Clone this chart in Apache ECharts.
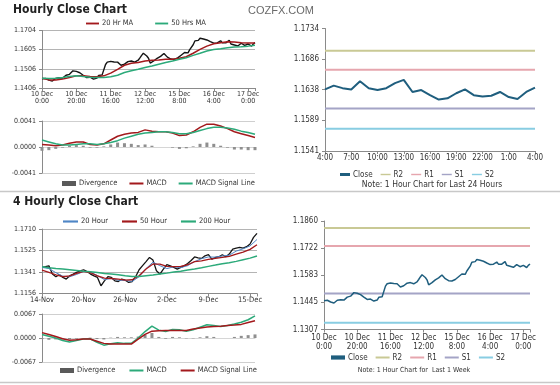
<!DOCTYPE html>
<html><head><meta charset="utf-8">
<script src="https://cdn.jsdelivr.net/npm/echarts@6/dist/echarts.min.js"></script>
<style>html,body{margin:0;padding:0;background:#fff}#c{width:560px;height:385px}</style>
</head><body><div id="c"></div>
<script>
// ---------- Hourly (1h) data, index 0 = 10 Dec 0:00 ----------
const hourlyTicks = ['10 Dec\n0:00','10 Dec\n20:00','11 Dec\n16:00','12 Dec\n12:00','15 Dec\n8:00','16 Dec\n4:00','17 Dec\n0:00'];
const hourlyClose = [
 1.1454,1.1450,1.1456,1.1449,1.1447,1.1444,1.1442,1.1448,1.1456,1.1460,
 1.1459,1.1455,1.1457,1.1465,1.1472,1.1468,1.1477,1.1484,1.1495,1.1500,
 1.1492,1.1486,1.1485,1.1480,1.1472,1.1466,1.1460,1.1457,1.1462,1.1458,
 1.1452,1.1450,1.1457,1.1471,1.1468,1.1474,1.1480,1.1528,1.1540,1.1537,
 1.1544,1.1536,1.1541,1.1548,1.1540,1.1530,1.1524,1.1522,1.1530,1.1536,
 1.1543,1.1549,1.1546,1.1544,1.1540,1.1538,1.1550,1.1562,1.1575,1.1586,
 1.1578,1.1572,1.1560,1.1535,1.1528,1.1546,1.1552,1.1560,1.1566,1.1570,
 1.1580,1.1585,1.1576,1.1566,1.1560,1.1556,1.1560,1.1554,1.1557,1.1562,
 1.1570,1.1576,1.1584,1.1590,1.1582,1.1588,1.1605,1.1615,1.1630,1.1650,
 1.1656,1.1653,1.1664,1.1668,1.1660,1.1662,1.1655,1.1650,1.1646,1.1642,
 1.1638,1.1644,1.1640,1.1638,1.1651,1.1640,1.1637,1.1640,1.1648,1.1653,
 1.1634,1.1637,1.1629,1.1622,1.1624,1.1632,1.1638,1.1629,1.1627,1.1628,
 1.1634,1.1626,1.1623,1.1634,1.1641];
// sampled every 4 hours
const ma20h = [1.1457,1.1448,1.1447,1.1452,1.1460,1.1469,1.1469,1.1465,1.1464,1.1469,1.1483,1.1503,1.1524,1.1534,1.1538,1.1546,1.1550,1.1551,1.1555,1.1555,1.1560,1.1568,1.1586,1.1606,1.1623,1.1635,1.1641,1.1646,1.1644,1.1641,1.1639,1.1639];
const ma50h = [1.1457,1.1455,1.1457,1.1460,1.1465,1.1469,1.1465,1.1462,1.1460,1.1460,1.1464,1.1472,1.1486,1.1495,1.1503,1.1512,1.1520,1.1529,1.1538,1.1546,1.1555,1.1563,1.1575,1.1586,1.1598,1.1606,1.1610,1.1615,1.1618,1.1620,1.1623,1.1627];
const macdH = [.0004,.0003,.0002,.0003,.0006,.0008,.0008,.0004,.0003,.0005,.0011,.0017,.0020,.0022,.0023,.0027,.0025,.0024,.0024,.0022,.0018,.0019,.0024,.0031,.0036,.0036,.0033,.0029,.0024,.0021,.0018,.0015];
const signalH = [.0011,.0008,.0005,.0003,.0003,.0004,.0005,.0005,.0004,.0005,.0007,.0010,.0014,.0017,.0020,.0022,.0023,.0024,.0024,.0023,.0021,.0021,.0023,.0026,.0029,.0031,.0031,.0030,.0028,.0025,.0023,.0020];
const divH = [-.0006,-.0005,-.0003,-.0001,.0002,.0003,.0002,-.0001,-.0001,.0001,.0004,.0007,.0006,.0005,.0003,.0004,.0002,.0000,.0000,-.0001,-.0003,-.0002,.0001,.0005,.0007,.0005,.0002,-.0001,-.0004,-.0004,-.0005,-.0005];
const priceTicksH = ['1.1406','1.1506','1.1605','1.1704'];
const macdTicksH = ['-0.0041','0.0000','0.0041'];

// ---------- last 24 hours / last week ----------
const dayTicks24 = ['4:00','7:00','10:00','13:00','16:00','19:00','22:00','1:00','4:00'];
const priceTicks24 = ['1.1541','1.1589','1.1638','1.1686','1.1734'];
const levelNames = ['R2','R1','S1','S2'];
const levels24 = [1.1699,1.1669,1.1608,1.1576];
const levelsWeek = [1.1824,1.1732,1.1491,1.1341];
const priceTicksWeek = ['1.1307','1.1445','1.1583','1.1722','1.1860'];

// ---------- 4-hourly data ----------
const fourHTicks = ['14-Nov','20-Nov','26-Nov','2-Dec','9-Dec','15-Dec'];
// sampled every 2 bars
const close4h = [
 1.1380,1.1386,1.1394,1.1323,1.1300,1.1318,1.1294,1.1280,1.1308,1.1322,
 1.1337,1.1351,1.1360,1.1345,1.1323,1.1308,1.1294,1.1222,1.1265,1.1300,
 1.1294,1.1265,1.1259,1.1280,1.1270,1.1251,1.1259,1.1300,1.1360,1.1395,
 1.1430,1.1466,1.1443,1.1351,1.1323,1.1366,1.1403,1.1394,1.1380,1.1366,
 1.1380,1.1394,1.1414,1.1440,1.1470,1.1462,1.1457,1.1480,1.1489,1.1450,
 1.1466,1.1472,1.1489,1.1472,1.1495,1.1538,1.1546,1.1552,1.1546,1.1558,
 1.1581,1.1638,1.1672];
// sampled every 4 bars
const ma20_4h = [1.1380,1.1370,1.1335,1.1305,1.1300,1.1320,1.1345,1.1340,1.1310,1.1275,1.1285,1.1270,1.1268,1.1260,1.1300,1.1370,1.1425,1.1395,1.1370,1.1385,1.1378,1.1395,1.1430,1.1455,1.1470,1.1468,1.1478,1.1485,1.1520,1.1540,1.1565,1.1620];
const ma50_4h = [1.1357,1.1337,1.1317,1.1300,1.1308,1.1328,1.1346,1.1334,1.1308,1.1288,1.1285,1.1280,1.1271,1.1274,1.1308,1.1366,1.1409,1.1409,1.1389,1.1386,1.1389,1.1403,1.1429,1.1437,1.1449,1.1457,1.1466,1.1475,1.1495,1.1512,1.1535,1.1575];
const ma200_4h = [1.1386,1.1377,1.1371,1.1366,1.1360,1.1354,1.1348,1.1343,1.1337,1.1328,1.1323,1.1317,1.1308,1.1302,1.1302,1.1308,1.1314,1.1323,1.1331,1.1340,1.1348,1.1357,1.1366,1.1377,1.1389,1.1400,1.1412,1.1420,1.1432,1.1446,1.1460,1.1478];
const macd4h = [.0010,.0005,.0000,-.0007,-.0011,-.0007,-.0003,-.0002,-.0012,-.0020,-.0016,-.0013,-.0015,-.0015,.0000,.0018,.0033,.0022,.0018,.0024,.0023,.0019,.0023,.0030,.0037,.0035,.0032,.0035,.0039,.0044,.0051,.0062];
const signal4h = [.0015,.0010,.0004,-.0002,-.0006,-.0005,-.0003,-.0003,-.0009,-.0015,-.0017,-.0017,-.0017,-.0017,-.0003,.0010,.0019,.0020,.0021,.0021,.0021,.0021,.0025,.0028,.0031,.0032,.0033,.0035,.0036,.0038,.0043,.0048];
const div4h = [-.0003,-.0005,-.0004,-.0004,-.0004,-.0002,.0000,.0001,-.0003,-.0004,.0001,.0003,.0002,.0002,.0004,.0009,.0014,.0003,-.0002,.0003,.0002,-.0001,-.0001,.0002,.0005,.0003,.0000,.0000,.0003,.0006,.0008,.0010];
const priceTicks4h = ['1.1156','1.1341','1.1525','1.1710'];
const macdTicks4h = ['-0.0067','0.0000','0.0067'];

// ---------- helpers ----------
const FONT = "'Liberation Sans Narrow','Arial Narrow','DejaVu Sans Condensed','Liberation Sans',Arial,sans-serif";
const AX = '#8a8a8a';
const RED = '#a3191c', GREEN = '#2caa7a', BLUE = '#4f86c6', CLOSE = '#1f5e7e';
const LEVEL_COLORS = ['#c9c995','#e6a6ae','#a4a4c6','#88cde2'];
const LINE_ICON = 'path://M0,0H14V2H0Z';
const THICK_ICON = 'path://M0,0H10V3H0Z';
const pts = (arr, step) => arr.map((v, i) => [i * step, v]);
function yFmt(labels, min, iv) {
  return v => { const k = Math.round((v - min) / iv); return (labels[k] !== undefined && Math.abs(v - (min + k * iv)) < iv * 0.02) ? labels[k] : ''; };
}
function xFmt(labels, iv) {
  return v => { const k = Math.round(v / iv); return Math.abs(v - k * iv) < 0.01 ? (labels[k] || '') : ''; };
}
function mkY(gi, min, max, labels, o) {
  o = o || {};
  const iv = (max - min) / (labels.length - 1);
  return {
    type: 'value', gridIndex: gi, min: min, max: max, interval: iv,
    axisLine: { show: true, lineStyle: { color: AX } },
    axisTick: { show: true, length: 3, lineStyle: { color: AX } },
    splitLine: { show: o.split !== false, lineStyle: { color: o.splitColor || '#bcbcbc', width: 1 } },
    axisLabel: { formatter: yFmt(labels, min, iv), fontSize: o.fs || 7, color: '#333', fontFamily: FONT, margin: o.margin || 6 }
  };
}
function mkX(gi, max, iv, labels, o) {
  o = o || {};
  return {
    type: 'value', gridIndex: gi, min: 0, max: max, interval: iv,
    axisLine: { show: true, onZero: !!o.onZero, lineStyle: { color: o.lineColor || AX } },
    axisTick: { show: !!labels, length: 3, lineStyle: { color: AX } },
    splitLine: { show: false },
    axisLabel: { show: !!labels, formatter: labels ? xFmt(labels, iv) : '', fontSize: o.fs || 7, lineHeight: o.lh || 7, color: '#333', fontFamily: FONT, margin: o.margin || 4 }
  };
}
function line(name, xi, data, color, width, z) {
  return { type: 'line', name: name, xAxisIndex: xi, yAxisIndex: xi, data: data, symbol: 'none', silent: true,
           lineStyle: { color: color, width: width }, itemStyle: { color: color }, z: z || 2, animation: false };
}
function bars(name, xi, data) {
  return { type: 'bar', name: name, xAxisIndex: xi, yAxisIndex: xi, data: data, barWidth: 3, silent: true,
           itemStyle: { color: '#8f8f8f' }, z: 1, animation: false };
}
function levelSeries(suffix, xi, xmax, levels) {
  return levels.map((lv, k) => ({
    type: 'line', name: levelNames[k] + suffix, xAxisIndex: xi, yAxisIndex: xi, symbol: 'none', silent: true,
    lineStyle: { color: LEVEL_COLORS[k], width: 2 }, itemStyle: { color: LEVEL_COLORS[k] }, z: 2, animation: false,
    data: [[0, lv], { value: [xmax, lv], label: { show: true, position: 'top', align: 'right', distance: 2,
      formatter: lv.toFixed(4), fontSize: 8, color: '#333', fontFamily: FONT } }]
  }));
}
const li = (name, icon) => ({ name: name, icon: icon || LINE_ICON });
const legendBase = (o) => Object.assign({
  orient: 'horizontal', selectedMode: false, itemWidth: 14, itemHeight: 5, itemGap: 12, padding: 0,
  formatter: n => n.split('#')[0],
  textStyle: { fontSize: 7.5, color: '#333', fontFamily: FONT, padding: [0, 0, 0, -2] }
}, o);

const chart = echarts.init(document.getElementById('c'), null, { renderer: 'canvas' });
chart.setOption({
  animation: false,
  backgroundColor: '#fff',
  grid: [
    { left: 42, top: 30.5, width: 213, height: 57.5 },
    { left: 42, top: 121, width: 213, height: 52 },
    { left: 325, top: 28.5, width: 210, height: 122.5 },
    { left: 42, top: 229, width: 215, height: 64.5 },
    { left: 42, top: 314, width: 213, height: 48 },
    { left: 324, top: 221, width: 206, height: 108.5 }
  ],
  xAxis: [
    mkX(0, 124, 20, hourlyTicks, { lh: 7, margin: 3 }),
    mkX(1, 124, 20, null, { onZero: true, lineColor: '#d6d6d6' }),
    mkX(2, 24, 3, dayTicks24, { fs: 8, margin: 3 }),
    mkX(3, 124, 24, fourHTicks, { fs: 7.5, margin: 3 }),
    mkX(4, 124, 24, null, { onZero: true, lineColor: '#d6d6d6' }),
    mkX(5, 124, 20, hourlyTicks, { fs: 8, lh: 9, margin: 4 })
  ],
  yAxis: [
    mkY(0, 1.1406, 1.1704, priceTicksH, { splitColor: '#b4b4b4' }),
    mkY(1, -0.0041, 0.0041, macdTicksH, { splitColor: '#cfcfcf' }),
    mkY(2, 1.1541, 1.1734, priceTicks24, { split: false, fs: 8, margin: 6 }),
    mkY(3, 1.1156, 1.1710, priceTicks4h, { splitColor: '#b4b4b4' }),
    mkY(4, -0.0067, 0.0067, macdTicks4h, { splitColor: '#cfcfcf' }),
    mkY(5, 1.1307, 1.1860, priceTicksWeek, { split: false, fs: 8, margin: 6 })
  ],
  legend: [
    legendBase({ left: 86, top: 19.5, itemWidth: 13, itemGap: 22, data: [li('20 Hr MA'), li('50 Hrs MA')] }),
    legendBase({ left: 62, top: 179.5, itemGap: 12,
      data: [{ name: 'Divergence', icon: 'rect', itemStyle: { color: '#5a5a5a' } }, li('MACD'), li('MACD Signal Line')] }),
    legendBase({ left: 340, top: 170.5, itemWidth: 10, itemHeight: 6, itemGap: 8,
      textStyle: { fontSize: 8, color: '#333', fontFamily: FONT, padding: [0, 0, 0, -2] },
      data: [li('Close', THICK_ICON), li('R2'), li('R1'), li('S1'), li('S2')] }),
    legendBase({ left: 63, top: 217.5, itemWidth: 15, itemGap: 14, data: [li('20 Hour'), li('50 Hour'), li('200 Hour')] }),
    legendBase({ left: 60, top: 366.5, itemGap: 14,
      data: [{ name: 'Divergence#2', icon: 'rect', itemStyle: { color: '#5a5a5a' } }, li('MACD#2'), li('MACD Signal Line#2')] }),
    legendBase({ left: 331, top: 353.5, itemWidth: 14, itemHeight: 6, itemGap: 8,
      textStyle: { fontSize: 8, color: '#333', fontFamily: FONT, padding: [0, 0, 0, -2] },
      data: [li('Close#2', THICK_ICON), li('R2#2'), li('R1#2'), li('S1#2'), li('S2#2')] })
  ],
  series: [
    // top-left price
    line('Hourly Close', 0, pts(hourlyClose, 1), '#151515', 1.4, 2),
    line('20 Hr MA', 0, pts(ma20h, 4), RED, 1.5, 3),
    line('50 Hrs MA', 0, pts(ma50h, 4), GREEN, 1.5, 3),
    // top-left MACD
    bars('Divergence', 1, pts(divH, 4)),
    line('MACD', 1, pts(macdH, 4), RED, 1.5, 3),
    line('MACD Signal Line', 1, pts(signalH, 4), GREEN, 1.5, 3),
    // top-right 24h
    ...levelSeries('', 2, 24, levels24),
    line('Close', 2, pts(hourlyClose.slice(100), 1), CLOSE, 2, 4),
    // bottom-left 4h price
    line('4h Close', 3, pts(close4h, 2), '#151515', 1.3, 2),
    line('20 Hour', 3, pts(ma20_4h, 4), BLUE, 1, 3),
    line('50 Hour', 3, pts(ma50_4h, 4), RED, 1.3, 3),
    line('200 Hour', 3, pts(ma200_4h, 4), GREEN, 1.5, 3),
    // bottom-left MACD
    bars('Divergence#2', 4, pts(div4h, 4)),
    line('MACD#2', 4, pts(macd4h, 4), GREEN, 1.5, 3),
    line('MACD Signal Line#2', 4, pts(signal4h, 4), RED, 1.5, 3),
    // bottom-right week
    ...levelSeries('#2', 5, 124, levelsWeek),
    line('Close#2', 5, pts(hourlyClose, 1), CLOSE, 1.5, 4)
  ],
  graphic: [
    { type: 'text', x: 13, y: 9.5, style: { text: 'Hourly Close Chart', font: "bold 12px " + FONT, fill: '#222', align: 'left', verticalAlign: 'middle' } },
    { type: 'text', x: 248, y: 11, style: { text: 'COZFX.COM', font: "11px 'Liberation Sans',Arial,sans-serif", fill: '#6a6a6a', align: 'left', verticalAlign: 'middle' } },
    { type: 'text', x: 13, y: 202, style: { text: '4 Hourly Close Chart', font: "bold 12px " + FONT, fill: '#222', align: 'left', verticalAlign: 'middle' } },
    { type: 'text', x: 432, y: 185, style: { text: 'Note: 1 Hour Chart for Last 24 Hours', font: "8.5px " + FONT, fill: '#333', align: 'center', verticalAlign: 'middle' } },
    { type: 'text', x: 414, y: 370, style: { text: 'Note: 1 Hour Chart for  Last 1 Week', font: "7px " + FONT, fill: '#333', align: 'center', verticalAlign: 'middle' } },
    { type: 'line', shape: { x1: 0, y1: 191.5, x2: 560, y2: 191.5 }, style: { stroke: '#c8c8c8', lineWidth: 1.5 } },
    { type: 'line', shape: { x1: 0, y1: 382.5, x2: 560, y2: 382.5 }, style: { stroke: '#c8c8c8', lineWidth: 1.5 } }
  ]
});
</script>
</body></html>
